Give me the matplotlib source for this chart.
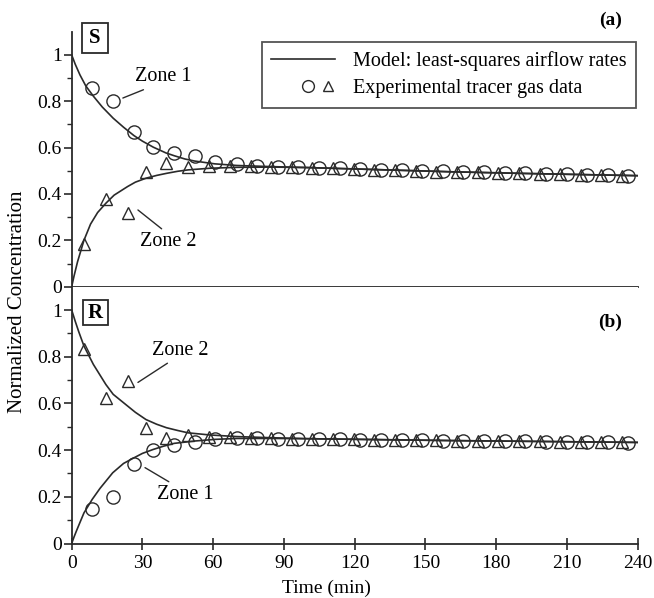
"""
Tracer gas decay in two zones: measured concentrations vs. least-squares airflow model
(panel a: source in zone S, panel b: source in zone R)
"""
#%%
import numpy as np
import matplotlib
matplotlib.use("Agg")
import matplotlib.pyplot as plt
from matplotlib.lines import Line2D
from matplotlib.patches import Rectangle
from matplotlib.legend_handler import HandlerBase

plt.rcParams["font.family"] = ["Liberation Serif", "DejaVu Serif"]
plt.rcParams["font.size"] = 14

#%% Data
# sample times (min)
tri_time  = [5.2, 14.5, 23.7, 31.5, 40.2, 49.4, 58.3, 67.1, 75.9, 84.6, 93.4, 102.1, 110.9, 119.6,
             128.4, 137.1, 145.9, 154.6, 163.4, 172.1, 180.9, 189.6, 198.4, 207.1, 215.9, 224.6, 233.4]
circ_time = [8.5, 17.4, 26.4, 34.6, 43.5, 52.2, 60.7, 69.9, 78.6, 87.4, 96.1, 104.9, 113.6, 122.4,
             131.1, 139.9, 148.6, 157.4, 166.1, 174.9, 183.6, 192.4, 201.1, 209.9, 218.6, 227.4, 236.1]

# (a) measured
a_zone1 = [0.856, 0.803, 0.666, 0.604, 0.576, 0.564, 0.540, 0.530, 0.522, 0.518, 0.515, 0.513, 0.510, 0.508,
           0.505, 0.503, 0.500, 0.498, 0.495, 0.493, 0.491, 0.489, 0.487, 0.485, 0.483, 0.481, 0.479]
a_zone2 = [0.184, 0.378, 0.317, 0.496, 0.532, 0.518, 0.521, 0.522, 0.520, 0.517, 0.515, 0.512, 0.510, 0.507,
           0.505, 0.502, 0.500, 0.497, 0.495, 0.493, 0.491, 0.489, 0.487, 0.485, 0.483, 0.481, 0.479]
# (a) model
a_m1_t = [0, 1.5, 3.5, 6, 9.2, 13, 17.6, 22, 26.4, 30, 34.6, 40, 43.5, 48, 52.2, 60.7, 70, 85, 100, 130, 160, 190, 220, 240]
a_m1   = [1.0, 0.96, 0.914, 0.866, 0.822, 0.775, 0.727, 0.688, 0.652, 0.628, 0.602, 0.577, 0.565, 0.551, 0.542,
          0.530, 0.523, 0.518, 0.514, 0.505, 0.496, 0.489, 0.483, 0.479]
a_m2_t = [0, 1, 2.5, 5.2, 8, 11, 14.5, 18, 23.7, 27, 31.5, 36, 40.2, 45, 49.4, 58.5, 70, 85, 100, 130, 160, 190, 220, 240]
a_m2   = [0.0, 0.046, 0.108, 0.2, 0.27, 0.32, 0.36, 0.395, 0.432, 0.451, 0.468, 0.480, 0.489, 0.498, 0.504,
          0.511, 0.515, 0.516, 0.514, 0.505, 0.496, 0.489, 0.483, 0.479]

# (b) measured
b_zone1 = [0.149, 0.200, 0.339, 0.400, 0.424, 0.434, 0.446, 0.450, 0.450, 0.449, 0.448, 0.447, 0.446, 0.445,
           0.444, 0.443, 0.442, 0.441, 0.440, 0.439, 0.438, 0.437, 0.436, 0.435, 0.434, 0.433, 0.432]
b_zone2 = [0.831, 0.624, 0.696, 0.496, 0.453, 0.463, 0.455, 0.455, 0.451, 0.450, 0.449, 0.448, 0.447, 0.446,
           0.445, 0.444, 0.443, 0.442, 0.441, 0.440, 0.439, 0.438, 0.437, 0.436, 0.435, 0.434, 0.433]
# (b) model
b_m1_t = [0, 1, 2.1, 3.5, 5.2, 8.7, 12, 17.4, 22, 26.4, 30, 34.6, 39, 43.5, 52.2, 60.7, 70, 85, 100, 130, 160, 190, 220, 240]
b_m1   = [0.0, 0.028, 0.056, 0.09, 0.131, 0.189, 0.236, 0.303, 0.343, 0.367, 0.386, 0.403, 0.417, 0.429, 0.439,
          0.446, 0.450, 0.450, 0.449, 0.445, 0.441, 0.438, 0.435, 0.433]
b_m2_t = [0, 1.5, 3, 5.2, 9.2, 14.5, 17.6, 23.7, 27, 31.5, 36, 40.2, 45, 49.4, 58.5, 70, 85, 100, 130, 160, 190, 220, 240]
b_m2   = [1.0, 0.952, 0.907, 0.846, 0.767, 0.681, 0.639, 0.589, 0.562, 0.531, 0.511, 0.496, 0.484, 0.474, 0.465,
          0.458, 0.453, 0.449, 0.445, 0.441, 0.438, 0.435, 0.433]

x_ticks = [0, 30, 60, 90, 120, 150, 180, 210, 240]
y_ticks = [0, 0.2, 0.4, 0.6, 0.8, 1]
y_ticklabels = ["0", "0.2", "0.4", "0.6", "0.8", "1"]

#%% Plot
ink = "#2a2a2a"
fig = plt.figure(figsize=(6.54, 5.98), dpi=100)
ax_a = fig.add_axes([0.1096, 0.5206, 0.8654, 0.4263])
ax_b = fig.add_axes([0.1096, 0.0911, 0.8654, 0.4295])

mk = dict(linestyle="none", markerfacecolor="none", markeredgecolor=ink, markeredgewidth=1.0)

def panel(ax, m1_t, m1, m2_t, m2, circ, tri):
    ax.plot(m1_t, m1, color=ink, lw=1.2, zorder=2)
    ax.plot(m2_t, m2, color=ink, lw=1.2, zorder=2)
    ax.plot(circ_time, circ, marker="o", markersize=9.5, **mk, zorder=3)
    ax.plot(tri_time, tri, marker="^", markersize=8.5, **mk, zorder=3)
    ax.set_xlim(0, 240)
    ax.set_ylim(0, 1.1)
    ax.spines["top"].set_visible(False)
    ax.spines["right"].set_visible(False)
    for s in ("left", "bottom"):
        ax.spines[s].set_linewidth(1.3)
        ax.spines[s].set_color(ink)
    ax.set_yticks(y_ticks)
    ax.set_yticklabels(y_ticklabels)
    ax.set_yticks(np.arange(0.1, 1.1, 0.2), minor=True)
    ax.tick_params(axis="y", which="major", direction="out", length=5.5, width=1.2, color=ink, pad=1.5)
    ax.tick_params(axis="y", which="minor", direction="out", length=3.5, width=1.0, color=ink)

panel(ax_a, a_m1_t, a_m1, a_m2_t, a_m2, a_zone1, a_zone2)
panel(ax_b, b_m2_t, b_m2, b_m1_t, b_m1, b_zone1, b_zone2)

ax_a.set_xticks([])
ax_b.set_xticks(x_ticks)
ax_b.tick_params(axis="x", direction="inout", length=8, width=1.2, color=ink, pad=4)
fig.text(326 / 654, 1 - 588 / 598, "Time (min)", ha="center", va="center", fontsize=14)
fig.text(18 / 654, 1 - 302 / 598, "Normalized Concentration", rotation=90, ha="center", va="center",
         fontsize=15)

# zone labels
line_kw = dict(arrowstyle="-", color=ink, lw=1.0, shrinkA=1, shrinkB=0)
zkw = dict(ha="center", va="center", fontsize=14.5)
ax_a.annotate("Zone 1", xy=(21.7, 0.814), xytext=(38.7, 0.905), **zkw,
              arrowprops=dict(relpos=(0.3, 0.0), **line_kw))
ax_a.annotate("Zone 2", xy=(28.1, 0.331), xytext=(40.8, 0.193), **zkw,
              arrowprops=dict(relpos=(0.47, 1.0), **line_kw))
ax_b.annotate("Zone 2", xy=(28.1, 0.69), xytext=(45.9, 0.828), **zkw,
              arrowprops=dict(relpos=(0.375, 0.0), **line_kw))
ax_b.annotate("Zone 1", xy=(31.1, 0.325), xytext=(48.0, 0.209), **zkw,
              arrowprops=dict(relpos=(0.32, 1.0), **line_kw))

# boxed zone letters and panel tags
for x0, y0, w, h, letter in [(82, 23, 26, 30, "S"), (83, 300, 25, 25, "R")]:
    fig.add_artist(Rectangle((x0 / 654, 1 - (y0 + h) / 598), w / 654, h / 598, transform=fig.transFigure,
                             facecolor="white", edgecolor=ink, lw=1.3, zorder=5))
    fig.text((x0 + w / 2) / 654, 1 - (y0 + h / 2) / 598, letter, ha="center", va="center",
             fontweight="bold", fontsize=15, zorder=6)
fig.text(611 / 654, 1 - 20 / 598, "(a)", ha="center", va="center", fontweight="bold", fontsize=14)
fig.text(610 / 654, 1 - 322 / 598, "(b)", ha="center", va="center", fontweight="bold", fontsize=14)

# legend
class PairHandler(HandlerBase):
    def create_artists(self, legend, orig_handle, xdescent, ydescent, width, height, fontsize, trans):
        yc = height / 2 - ydescent
        c = Line2D([0.58 * width - xdescent], [yc], marker="o", markersize=8.5, **mk)
        t = Line2D([0.89 * width - xdescent], [yc], marker="^", markersize=7, **mk)
        c.set_transform(trans)
        t.set_transform(trans)
        return [c, t]

h_line = Line2D([], [], color=ink, lw=1.2)
h_pair = object()
leg = ax_a.legend([h_line, h_pair],
                  ["Model: least-squares airflow rates", "Experimental tracer gas data"],
                  handler_map={h_pair: PairHandler()},
                  loc="upper right", bbox_to_anchor=(0.997, 0.96), borderaxespad=0,
                  fancybox=False, frameon=True, handlelength=3.2, handletextpad=0.9,
                  borderpad=0.45, labelspacing=0.42, fontsize=14.5)
leg.get_frame().set_edgecolor(ink)
leg.get_frame().set_linewidth(1.3)

fig.savefig("out.png", dpi=100)
